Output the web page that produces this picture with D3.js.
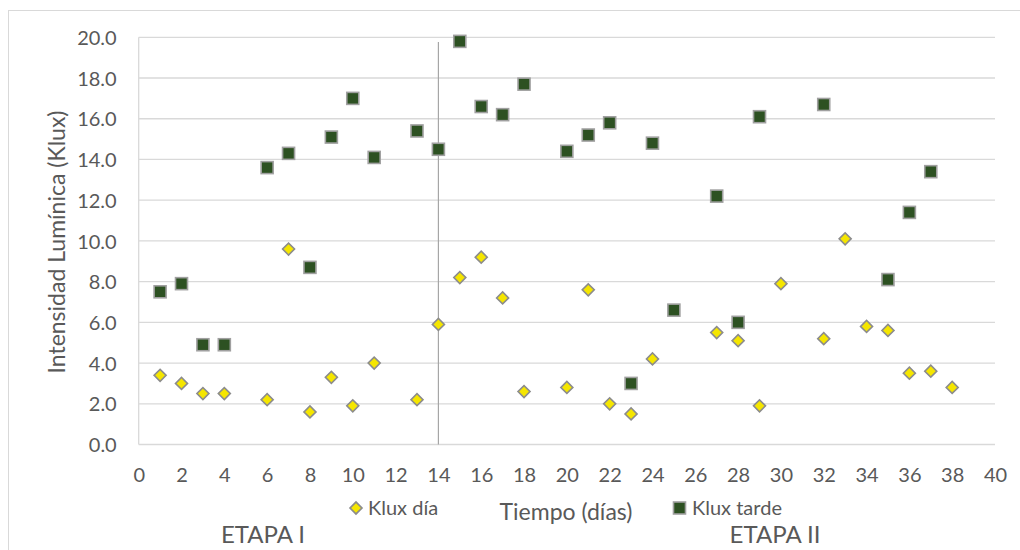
<!DOCTYPE html>
<html lang="es">
<head>
  <meta charset="UTF-8">
  <title>Intensidad Lumínica</title>
  <style>
    body { margin: 0; background: #fff; }
    text { font-family: Lato, "Open Sans", sans-serif; fill: #595959; }
  </style>
</head>
<body>
  <svg id="chart" width="1020" height="550"></svg>
<script src="https://cdn.jsdelivr.net/npm/d3@7"></script>
<script>
  // Klux día (diamonds)
  const diaDays = [1, 2, 3, 4, 6, 7, 8, 9, 10, 11, 13, 14, 15, 16, 17, 18, 20, 21, 22, 23, 24,
                   27, 28, 29, 30, 32, 33, 34, 35, 36, 37, 38]
  const diaKlux = [3.4, 3.0, 2.5, 2.5, 2.2, 9.6, 1.6, 3.3, 1.9, 4.0, 2.2, 5.9, 8.2, 9.2, 7.2, 2.6, 2.8, 7.6, 2.0, 1.5, 4.2,
                   5.5, 5.1, 1.9, 7.9, 5.2, 10.1, 5.8, 5.6, 3.5, 3.6, 2.8]

  // Klux tarde (squares)
  const tardeDays = [1, 2, 3, 4, 6, 7, 8, 9, 10, 11, 13, 14, 15, 16, 17, 18, 20, 21, 22, 23, 24, 25,
                     27, 28, 29, 32, 35, 36, 37]
  const tardeKlux = [7.5, 7.9, 4.9, 4.9, 13.6, 14.3, 8.7, 15.1, 17.0, 14.1, 15.4, 14.5, 19.8, 16.6, 16.2, 17.7, 14.4, 15.2, 15.8, 3.0, 14.8, 6.6,
                     12.2, 6.0, 16.1, 16.7, 8.1, 11.4, 13.4]

  const xTicks = d3.range(0, 41, 2)
  const yTicks = d3.range(0, 21, 2)
  const stageSplit = 14

  const svg = d3.select("#chart")

  // chart area border
  svg.append("rect")
     .attr("x", 8.5).attr("y", 10.5)
     .attr("width", 1030).attr("height", 560)
     .attr("fill", "none").attr("stroke", "#d9d9d9")

  const plotLeft = 138.7, plotRight = 995, plotTop = 37.3, plotBottom = 444.5

  const x = d3.scaleLinear().domain([0, 40]).range([plotLeft, plotRight])
  const y = d3.scaleLinear().domain([0, 20]).range([plotBottom, plotTop])

  // gridlines
  svg.append("g")
     .selectAll("line")
     .data(yTicks)
     .enter()
     .append("line")
     .attr("x1", plotLeft).attr("x2", plotRight)
     .attr("y1", d => y(d)).attr("y2", d => y(d))
     .attr("stroke", "#d9d9d9").attr("stroke-width", 1.3)

  // y axis line
  svg.append("line")
     .attr("x1", plotLeft).attr("x2", plotLeft)
     .attr("y1", plotTop).attr("y2", plotBottom)
     .attr("stroke", "#d9d9d9").attr("stroke-width", 1.3)

  // y tick labels
  let yAxis = d3.axisLeft(y).tickValues(yTicks).tickFormat(d3.format(".1f")).tickSize(0).tickPadding(22)
  let gy = svg.append("g").attr("transform", `translate(${plotLeft},0)`).call(yAxis)
  gy.select(".domain").remove()
  gy.selectAll("text").style("font-size", "20px").attr("fill", "#595959").attr("dy", "0.36em")

  // x tick labels
  let xAxis = d3.axisBottom(x).tickValues(xTicks).tickFormat(d3.format("d")).tickSize(0).tickPadding(23)
  let gx = svg.append("g").attr("transform", `translate(0,${plotBottom})`).call(xAxis)
  gx.select(".domain").remove()
  gx.selectAll("text").style("font-size", "20px").attr("fill", "#595959")

  // stage divider
  svg.append("line")
     .attr("x1", x(stageSplit)).attr("x2", x(stageSplit))
     .attr("y1", 42).attr("y2", plotBottom)
     .attr("stroke", "#a6a6a6").attr("stroke-width", 1.2)

  const diamond = d3.symbol().type(d3.symbolSquare).size(72)

  // Klux día
  svg.append("g")
     .selectAll("path")
     .data(diaDays.map((d, i) => [d, diaKlux[i]]))
     .enter()
     .append("path")
     .attr("d", diamond)
     .attr("transform", d => `translate(${x(d[0])},${y(d[1])}) rotate(45)`)
     .attr("fill", "#f5e600")
     .attr("stroke", "#8c8c8c").attr("stroke-width", 1.6)

  // Klux tarde
  svg.append("g")
     .selectAll("rect")
     .data(tardeDays.map((d, i) => [d, tardeKlux[i]]))
     .enter()
     .append("rect")
     .attr("x", d => x(d[0]) - 6).attr("y", d => y(d[1]) - 6)
     .attr("width", 12).attr("height", 12)
     .attr("fill", "#2d5122")
     .attr("stroke", "#a0a0a0").attr("stroke-width", 1.6)

  // y axis title
  svg.append("text")
     .attr("transform", "translate(65,242) rotate(-90)")
     .attr("text-anchor", "middle")
     .style("font-size", "23px")
     .text("Intensidad Lumínica (Klux)")

  // x axis title
  svg.append("text")
     .attr("x", 566).attr("y", 520)
     .attr("text-anchor", "middle")
     .style("font-size", "23px")
     .text("Tiempo (días)")

  // legend
  svg.append("path")
     .attr("d", diamond)
     .attr("transform", "translate(356,508) rotate(45)")
     .attr("fill", "#f5e600")
     .attr("stroke", "#8c8c8c").attr("stroke-width", 1.6)
  svg.append("text")
     .attr("x", 368).attr("y", 515)
     .style("font-size", "20px")
     .text("Klux día")

  svg.append("rect")
     .attr("x", 673.5).attr("y", 502)
     .attr("width", 12).attr("height", 12)
     .attr("fill", "#2d5122")
     .attr("stroke", "#a0a0a0").attr("stroke-width", 1.6)
  svg.append("text")
     .attr("x", 692).attr("y", 515)
     .style("font-size", "20px")
     .text("Klux tarde")

  // stage labels
  svg.append("text")
     .attr("x", 263).attr("y", 543)
     .attr("text-anchor", "middle")
     .style("font-size", "24px")
     .text("ETAPA I")
  svg.append("text")
     .attr("x", 775).attr("y", 543)
     .attr("text-anchor", "middle")
     .style("font-size", "24px")
     .text("ETAPA II")
</script>
</body>
</html>
